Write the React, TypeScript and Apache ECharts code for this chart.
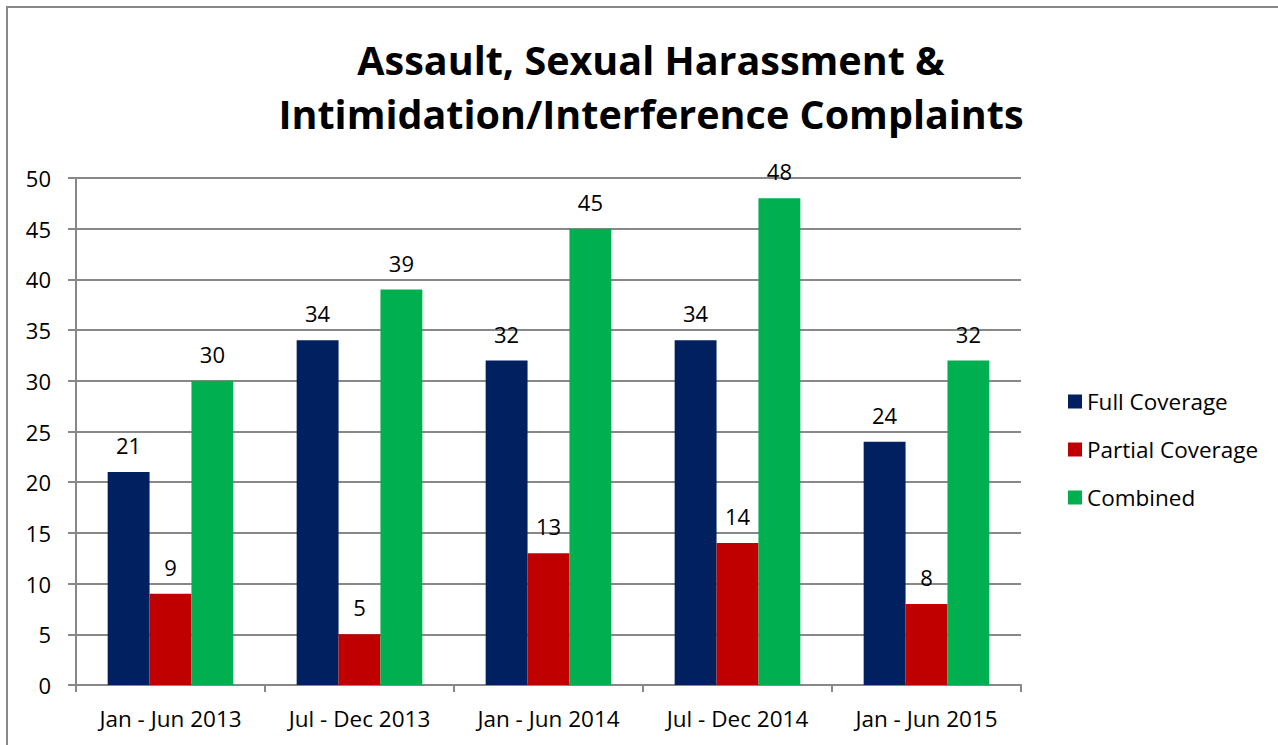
import React, { useEffect, useRef } from "react";
import * as echarts from "echarts";

const categories = ["Jan - Jun 2013", "Jul - Dec 2013", "Jan - Jun 2014", "Jul - Dec 2014", "Jan - Jun 2015"];
const fullCoverage = [21, 34, 32, 34, 24];
const partialCoverage = [9, 5, 13, 14, 8];
const combined = [30, 39, 45, 48, 32];
const seriesNames = ["Full Coverage", "Partial Coverage", "Combined"];
const colors = ["#002060", "#C00000", "#00B050"];
const titleLines = ["Assault, Sexual Harassment &", "Intimidation/Interference Complaints"];

const FONT = "'Open Sans', 'Noto Sans', sans-serif";

export default function App() {
  const ref = useRef<HTMLDivElement>(null);
  useEffect(() => {
    if (!ref.current) return;
    const chart = echarts.init(ref.current, null, { renderer: "svg" });
    const mkSeries = (name: string, data: number[], color: string) => ({
      name,
      type: "bar",
      data,
      barGap: "0%",
      barCategoryGap: "33.5%",
      itemStyle: { color },
      label: {
        show: true,
        position: "top",
        distance: 16,
        color: "#000",
        fontSize: 22,
        fontFamily: FONT,
      },
    });
    chart.setOption({
      animation: false,
      backgroundColor: "#fff",
      title: {
        text: titleLines.join("\n"),
        left: 646,
        textAlign: "center",
        top: 28,
        textStyle: {
          fontFamily: FONT,
          fontWeight: "bold",
          fontSize: 39.5,
          lineHeight: 54,
          color: "#000",
        },
      },
      legend: {
        orient: "vertical",
        left: 1063,
        top: 385,
        itemWidth: 14,
        itemHeight: 14,
        itemGap: 25,
        icon: "rect",
        textStyle: { fontFamily: FONT, fontSize: 22.5, color: "#000", padding: [0, 0, 0, 0] },
        data: seriesNames,
      },
      grid: { left: 76, top: 178, right: 257, bottom: 60, containLabel: false },
      xAxis: {
        type: "category",
        data: categories,
        axisLine: { show: true, lineStyle: { color: "#888", width: 2 } },
        axisTick: { show: true, length: 7, lineStyle: { color: "#888", width: 2 } },
        axisLabel: { color: "#000", fontSize: 22.5, fontFamily: FONT, margin: 22 },
      },
      yAxis: {
        type: "value",
        min: 0,
        max: 50,
        interval: 5,
        axisLine: { show: true, lineStyle: { color: "#888", width: 2 } },
        axisTick: { show: true, length: 8, lineStyle: { color: "#888", width: 2 } },
        axisLabel: { color: "#000", fontSize: 22, fontFamily: FONT, margin: 25 },
        splitLine: { show: true, lineStyle: { color: "#888", width: 2 } },
      },
      graphic: [
        {
          type: "rect",
          shape: { x: 7, y: 7, width: 1400, height: 1000 },
          style: { fill: "none", stroke: "#888", lineWidth: 2 },
          silent: true,
        },
      ],
      series: [
        mkSeries(seriesNames[0], fullCoverage, colors[0]),
        mkSeries(seriesNames[1], partialCoverage, colors[1]),
        mkSeries(seriesNames[2], combined, colors[2]),
      ],
    });
    return () => chart.dispose();
  }, []);
  return (
    <div
      ref={ref}
      style={{ position: "fixed", left: 0, top: 0, width: 1278, height: 745 }}
    />
  );
}
